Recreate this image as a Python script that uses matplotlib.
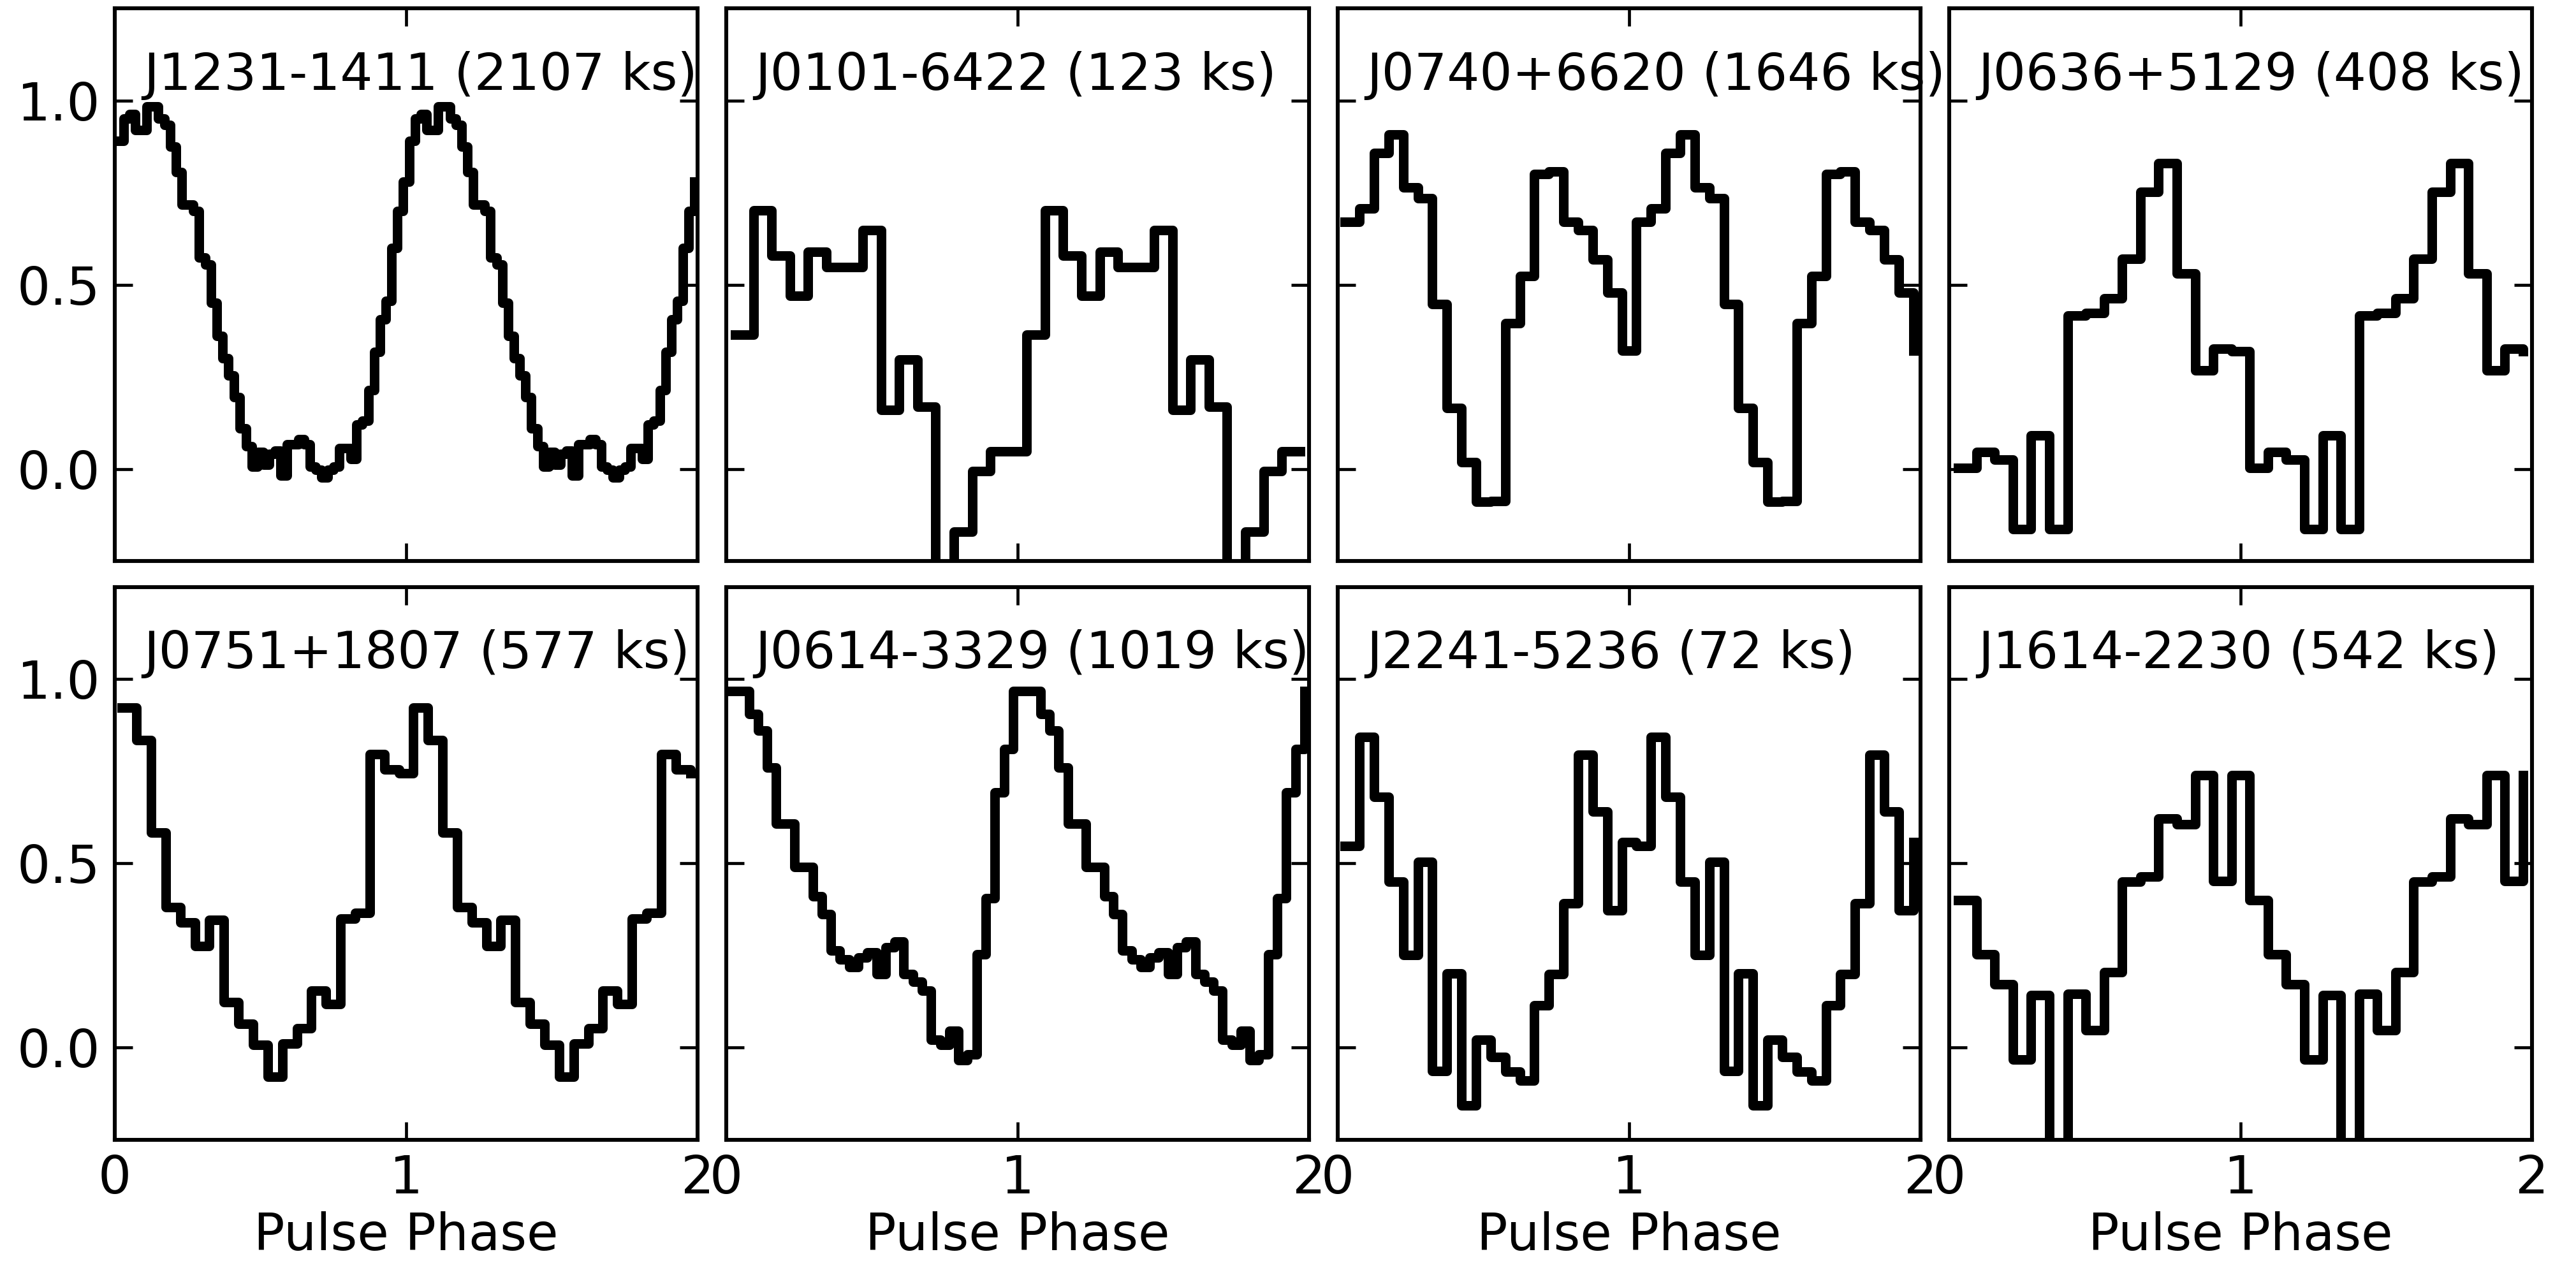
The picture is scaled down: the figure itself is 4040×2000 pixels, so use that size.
import numpy as np
import matplotlib
matplotlib.use("Agg")
import matplotlib.pyplot as plt

# ---- data -------------------------------------------------------------
names = ["J1231-1411", "J0101-6422", "J0740+6620", "J0636+5129",
         "J0751+1807", "J0614-3329", "J2241-5236", "J1614-2230"]
exposures_ks = [2107, 123, 1646, 408, 577, 1019, 72, 542]

# normalised pulse profiles, one value per phase bin (bin j centred at j/N)
prof_J1231 = [0.78, 0.89, 0.95, 0.963, 0.92, 0.92, 0.983, 0.983, 0.95, 0.934,
              0.875, 0.806, 0.717, 0.717, 0.70, 0.574, 0.554, 0.45, 0.36, 0.30,
              0.253, 0.194, 0.11, 0.061, 0.007, 0.046, 0.012, 0.041, 0.05, -0.018,
              0.066, 0.066, 0.081, 0.066, 0.007, -0.003, -0.023, -0.003, 0.007, 0.056,
              0.056, 0.027, 0.12, 0.13, 0.214, 0.318, 0.406, 0.456, 0.60, 0.70]
prof_J0101 = [0.047, 0.364, 0.701, 0.578, 0.469, 0.590, 0.548, 0.548,
              0.648, 0.160, 0.297, 0.168, -0.45, -0.171, -0.006, 0.047]
prof_J0740 = [0.321, 0.670, 0.707, 0.858, 0.908, 0.764, 0.735, 0.448, 0.165, 0.018,
              -0.089, -0.088, 0.395, 0.524, 0.801, 0.807, 0.671, 0.648, 0.569, 0.478]
prof_J0636 = [0.320, 0.002, 0.046, 0.026, -0.163, 0.091, -0.163, 0.416,
              0.423, 0.463, 0.571, 0.751, 0.830, 0.530, 0.268, 0.327]
prof_J0751 = [0.745, 0.922, 0.835, 0.584, 0.381, 0.340, 0.276, 0.347, 0.123, 0.065,
              0.007, -0.079, 0.011, 0.053, 0.155, 0.119, 0.351, 0.366, 0.797, 0.755]
prof_J0614 = [0.968, 0.968, 0.968, 0.906, 0.860, 0.761, 0.608, 0.608, 0.490, 0.490,
              0.411, 0.362, 0.263, 0.239, 0.219, 0.244, 0.258, 0.199, 0.273, 0.288,
              0.199, 0.179, 0.155, 0.022, 0.007, 0.046, -0.033, -0.018, 0.253, 0.406,
              0.692, 0.811]
prof_J2241 = [0.557, 0.548, 0.843, 0.680, 0.451, 0.251, 0.505, -0.064, 0.201, -0.156,
              0.022, -0.025, -0.065, -0.089, 0.115, 0.199, 0.392, 0.794, 0.641, 0.372]
prof_J1614 = [0.739, 0.400, 0.253, 0.172, -0.032, 0.142, -0.40, 0.146,
              0.047, 0.205, 0.450, 0.464, 0.622, 0.606, 0.739, 0.452]

profiles = [prof_J1231, prof_J0101, prof_J0740, prof_J0636,
            prof_J0751, prof_J0614, prof_J2241, prof_J1614]

x_ticks = [0, 1, 2]
y_ticks = [0.0, 0.5, 1.0]

# ---- figure -----------------------------------------------------------
fig, axes = plt.subplots(2, 4, figsize=(20.205, 10), dpi=200,
                         sharex=True, sharey=True)
fig.subplots_adjust(left=0.0445, right=0.9827, top=0.9935, bottom=0.106,
                    wspace=0.049, hspace=0.047)

for ax, name, exp, prof in zip(axes.flat, names, exposures_ks, profiles):
    v = np.asarray(prof, dtype=float)
    n = len(v)
    j = np.arange(1, 2 * n + 1)
    x = (j - 0.5) / n
    y = v[j % n]
    ax.step(x, y, where="post", color="black", lw=5.4)
    ax.text(0.1, 1.0, f"{name} ({exp} ks)", fontsize=29,
            ha="left", va="bottom")
    ax.set_xlim(0, 2)
    ax.set_ylim(-0.25, 1.25)
    ax.set_xticks(x_ticks)
    ax.set_yticks(y_ticks)
    ax.tick_params(direction="in", top=True, right=True, length=10,
                   width=1.7, labelsize=29.5, pad=8)
    for sp in ax.spines.values():
        sp.set_linewidth(2.2)

for ax in axes[1]:
    ax.set_xlabel("Pulse Phase", fontsize=29)

fig.savefig("out.png", dpi=200)
